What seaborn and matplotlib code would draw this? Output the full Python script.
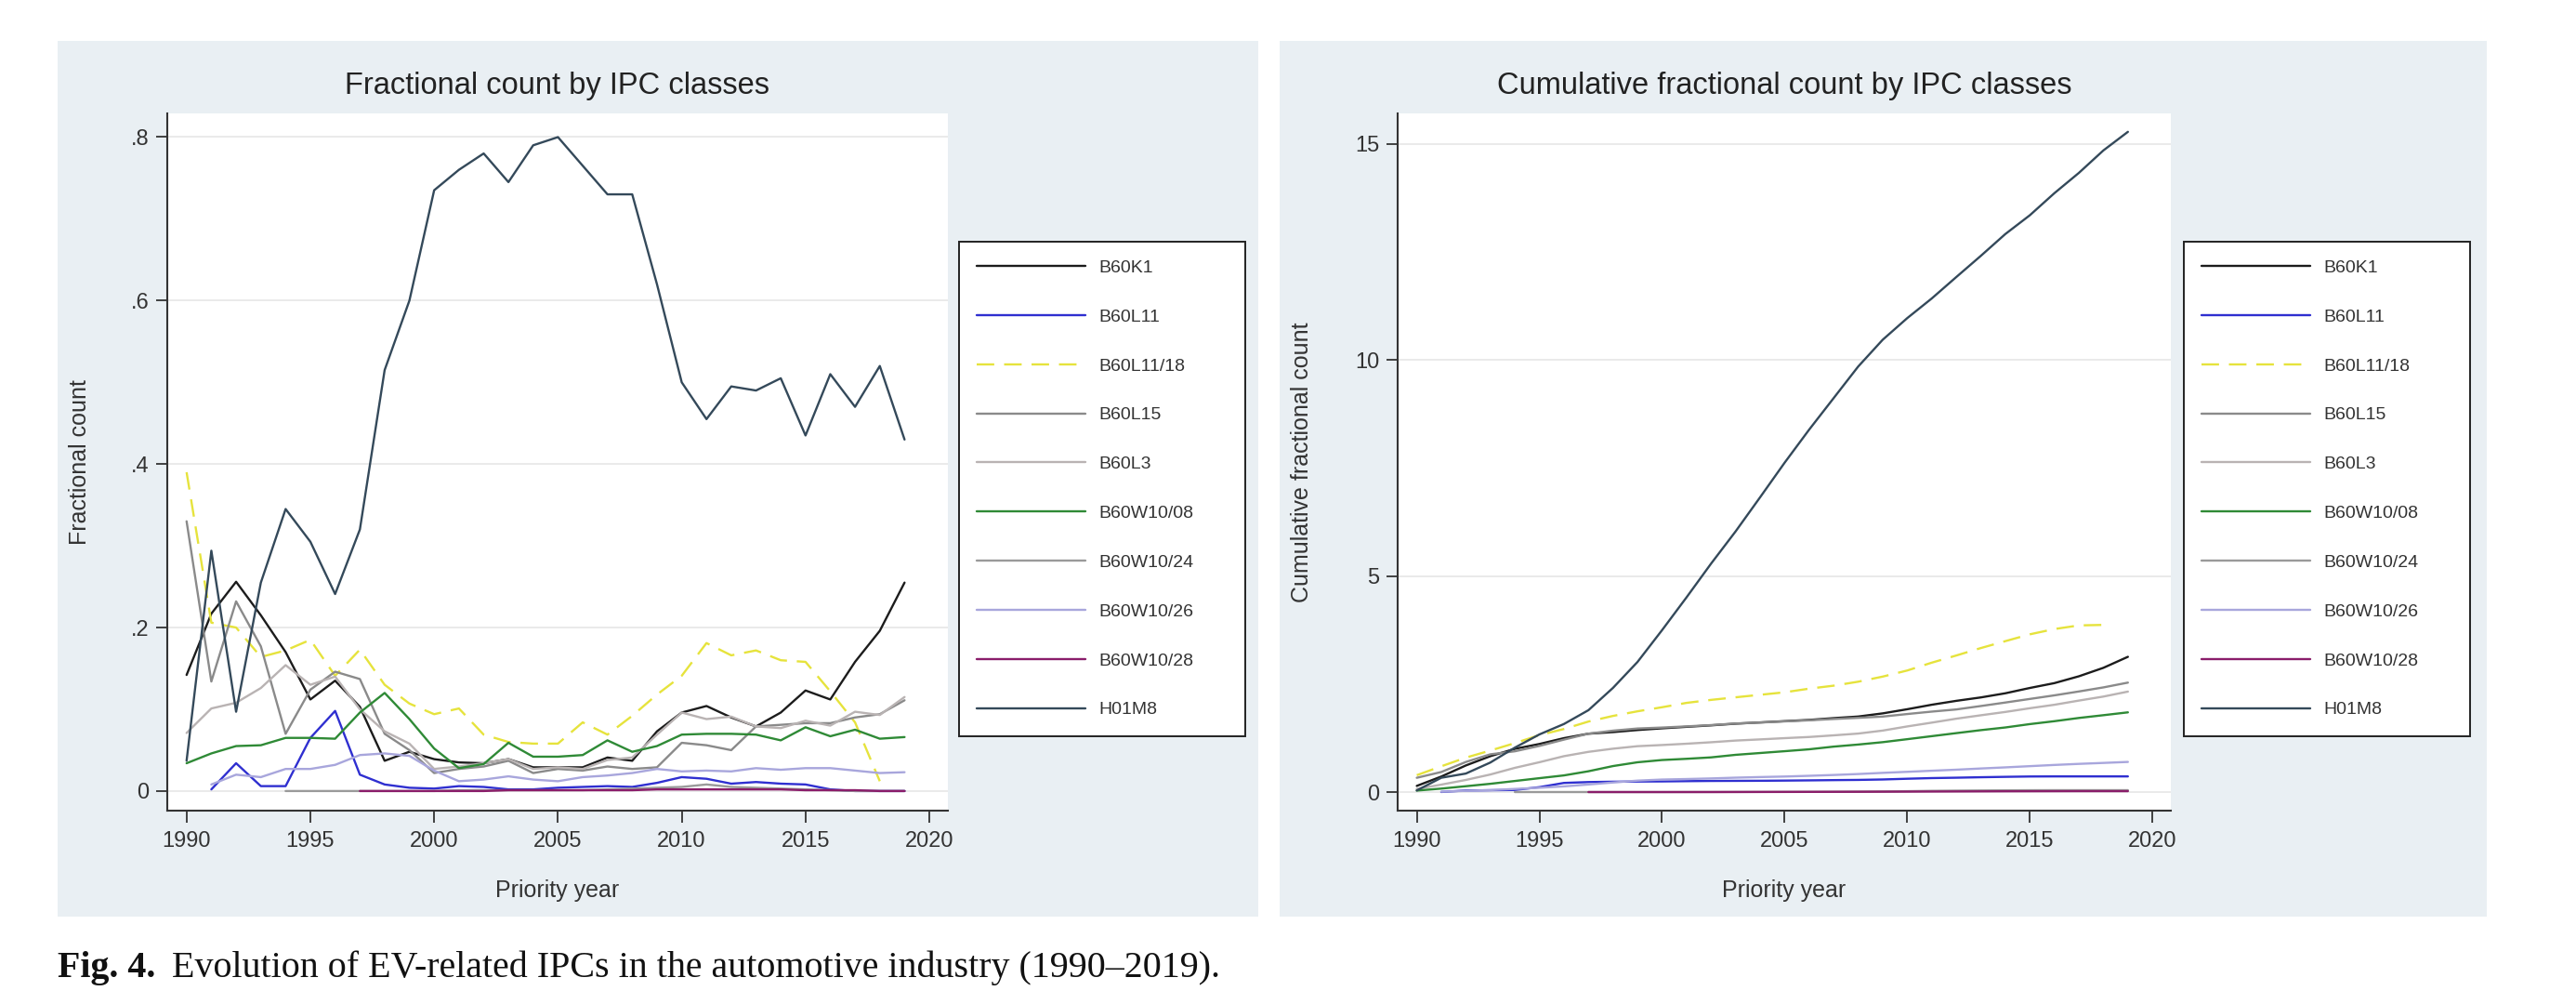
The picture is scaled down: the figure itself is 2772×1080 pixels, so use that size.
import numpy as np
import pandas as pd
import matplotlib
matplotlib.use("Agg")
import matplotlib.pyplot as plt
import seaborn as sns
from matplotlib.patches import Rectangle

# ---------------- data ----------------
nan = np.nan
years = list(range(1990, 2020))
ipc_classes = ["B60K1", "B60L11", "B60L11/18", "B60L15", "B60L3",
               "B60W10/08", "B60W10/24", "B60W10/26", "B60W10/28", "H01M8"]

frac_B60K1 = [0.142, 0.217, 0.256, 0.215, 0.170, 0.112, 0.135, 0.103, 0.037, 0.048,
              0.039, 0.035, 0.034, 0.039, 0.029, 0.029, 0.029, 0.041, 0.037, 0.073,
              0.096, 0.104, 0.090, 0.079, 0.096, 0.123, 0.112, 0.158, 0.196, 0.255]
frac_B60L11 = [nan, 0.002, 0.034, 0.006, 0.006, 0.065, 0.098, 0.020, 0.008, 0.004,
               0.003, 0.006, 0.005, 0.002, 0.002, 0.004, 0.005, 0.006, 0.005, 0.010,
               0.017, 0.015, 0.009, 0.011, 0.009, 0.008, 0.002, 0.000, 0.000, 0.000]
frac_B60L11_18 = [0.390, 0.206, 0.200, 0.164, 0.172, 0.185, 0.141, 0.173, 0.130, 0.107,
                  0.094, 0.101, 0.069, 0.060, 0.058, 0.058, 0.084, 0.069, 0.092, 0.118,
                  0.141, 0.181, 0.166, 0.172, 0.160, 0.158, 0.122, 0.084, 0.012, nan]
frac_B60L15 = [0.330, 0.134, 0.232, 0.177, 0.070, 0.124, 0.146, 0.137, 0.070, 0.050,
               0.022, 0.027, 0.030, 0.037, 0.022, 0.027, 0.025, 0.030, 0.027, 0.029,
               0.059, 0.056, 0.050, 0.079, 0.081, 0.083, 0.083, 0.090, 0.094, 0.111]
frac_B60L3 = [0.071, 0.101, 0.108, 0.126, 0.154, 0.130, 0.140, 0.100, 0.073, 0.058,
              0.027, 0.030, 0.034, 0.039, 0.027, 0.029, 0.027, 0.038, 0.041, 0.069,
              0.096, 0.088, 0.091, 0.079, 0.077, 0.086, 0.080, 0.097, 0.093, 0.115]
frac_B60W10_08 = [0.034, 0.046, 0.055, 0.056, 0.065, 0.065, 0.064, 0.096, 0.120, 0.088,
                  0.052, 0.028, 0.033, 0.059, 0.042, 0.042, 0.044, 0.062, 0.048, 0.055,
                  0.069, 0.070, 0.070, 0.069, 0.062, 0.078, 0.067, 0.075, 0.064, 0.066]
frac_B60W10_24 = [nan, nan, nan, nan, 0.000, 0.000, 0.000, 0.000, 0.000, 0.000,
                  0.000, 0.001, 0.001, 0.001, 0.001, 0.001, 0.001, 0.002, 0.003, 0.004,
                  0.005, 0.008, 0.005, 0.004, 0.003, 0.002, 0.001, 0.000, 0.000, 0.000]
frac_B60W10_26 = [nan, 0.008, 0.020, 0.017, 0.027, 0.027, 0.032, 0.044, 0.046, 0.043,
                  0.025, 0.012, 0.014, 0.018, 0.014, 0.012, 0.017, 0.019, 0.022, 0.027,
                  0.024, 0.025, 0.024, 0.028, 0.026, 0.028, 0.028, 0.025, 0.022, 0.023]
frac_B60W10_28 = [nan, nan, nan, nan, nan, nan, nan, 0.000, 0.000, 0.000,
                  0.000, 0.000, 0.000, 0.001, 0.001, 0.001, 0.001, 0.001, 0.001, 0.002,
                  0.002, 0.002, 0.002, 0.002, 0.002, 0.001, 0.001, 0.001, 0.000, 0.000]
frac_H01M8 = [0.037, 0.294, 0.097, 0.255, 0.345, 0.305, 0.241, 0.320, 0.515, 0.600,
              0.735, 0.760, 0.780, 0.745, 0.790, 0.800, 0.765, 0.730, 0.730, 0.620,
              0.500, 0.455, 0.495, 0.490, 0.505, 0.435, 0.510, 0.470, 0.520, 0.430]

x_ticks = [1990, 1995, 2000, 2005, 2010, 2015, 2020]
left_yticks = [0, 0.2, 0.4, 0.6, 0.8]
left_yticklabels = ["0", ".2", ".4", ".6", ".8"]
right_yticks = [0, 5, 10, 15]
right_yticklabels = ["0", "5", "10", "15"]

left_title = "Fractional count by IPC classes"
right_title = "Cumulative fractional count by IPC classes"
left_ylabel = "Fractional count"
right_ylabel = "Cumulative fractional count"
xlabel = "Priority year"
caption_bold = "Fig. 4."
caption_text = "Evolution of EV-related IPCs in the automotive industry (1990\u20132019)."

series = {
    "B60K1": frac_B60K1, "B60L11": frac_B60L11, "B60L11/18": frac_B60L11_18,
    "B60L15": frac_B60L15, "B60L3": frac_B60L3, "B60W10/08": frac_B60W10_08,
    "B60W10/24": frac_B60W10_24, "B60W10/26": frac_B60W10_26,
    "B60W10/28": frac_B60W10_28, "H01M8": frac_H01M8,
}

rows = []
for name in ipc_classes:
    s = pd.Series(series[name], index=years, dtype=float)
    c = s.cumsum()
    for y in years:
        rows.append({"year": y, "ipc": name, "frac": s[y], "cum": c[y]})
df = pd.DataFrame(rows)

palette = {
    "B60K1": "#1c1c1c", "B60L11": "#2f2fd0", "B60L11/18": "#e6e33c",
    "B60L15": "#8a8a8a", "B60L3": "#b9b3b3", "B60W10/08": "#2f8a36",
    "B60W10/24": "#9a9a9a", "B60W10/26": "#a8a6dc", "B60W10/28": "#8a1d6a",
    "H01M8": "#34495a",
}
dashes = {n: "" for n in ipc_classes}
dashes["B60L11/18"] = (8, 4.5)

# ---------------- style ----------------
sns.set_theme(style="white")
plt.rcParams["font.family"] = ["Liberation Sans", "DejaVu Sans"]

W, H = 2772, 1080
fig = plt.figure(figsize=(W / 100, H / 100), dpi=100)
fig.patch.set_facecolor("white")

panel_color = "#e9eff3"
fig.patches.append(Rectangle((62 / W, 1 - 986 / H), (1354 - 62) / W, (986 - 44) / H,
                             transform=fig.transFigure, facecolor=panel_color,
                             edgecolor="none", zorder=-10))
fig.patches.append(Rectangle((1377 / W, 1 - 986 / H), (2676 - 1377) / W, (986 - 44) / H,
                             transform=fig.transFigure, facecolor=panel_color,
                             edgecolor="none", zorder=-10))

ax1 = fig.add_axes([180 / W, (H - 872) / H, 840 / W, 750 / H])
ax2 = fig.add_axes([1504 / W, (H - 872) / H, 832 / W, 750 / H])

ink = "#333333"
configs = [
    (ax1, "frac", left_title, left_ylabel, left_yticks, left_yticklabels, (-0.024, 0.829), 1032),
    (ax2, "cum", right_title, right_ylabel, right_yticks, right_yticklabels, (-0.43, 15.70), 2350),
]

for ax, col, title, ylab, yt, ytl, ylim, leg_x in configs:
    ax.set_zorder(5)
    ax.set_facecolor("white")
    sns.lineplot(data=df, x="year", y=col, hue="ipc", style="ipc",
                 hue_order=ipc_classes, style_order=ipc_classes,
                 palette=palette, dashes=dashes, linewidth=1.7,
                 estimator=None, errorbar=None, ax=ax, legend=True)
    ax.set_xlim(1989.22, 2020.75)
    ax.set_ylim(*ylim)
    ax.set_xticks(x_ticks)
    ax.set_xticklabels([str(t) for t in x_ticks])
    ax.set_yticks(yt)
    ax.set_yticklabels(ytl)
    ax.grid(axis="y", color="#e8e8e8", linewidth=1.3)
    ax.grid(axis="x", visible=False)
    ax.set_axisbelow(True)
    for sp in ["top", "right"]:
        ax.spines[sp].set_visible(False)
    for sp in ["left", "bottom"]:
        ax.spines[sp].set_color(ink)
        ax.spines[sp].set_linewidth(1.5)
    ax.tick_params(axis="both", direction="out", length=9, width=1.3, color=ink,
                   labelsize=17, labelcolor=ink, pad=5, left=True, bottom=True)
    ax.tick_params(axis="x", pad=7)
    ax.set_title(title, fontsize=23.5, color="#222222", y=1.028, va="center")
    ax.set_xlabel(xlabel, fontsize=18, color=ink)
    ax.set_ylabel(ylab, fontsize=18, color=ink)
    ax.xaxis.set_label_coords(0.5, -0.115)
    ax.xaxis.label.set_verticalalignment("center")
    ax.yaxis.label.set_verticalalignment("center")

    handles, labels = ax.get_legend_handles_labels()
    if ax.get_legend() is not None:
        ax.get_legend().remove()
    for h in handles:
        h.set_linewidth(1.7)
    leg = ax.legend(handles, labels, loc="upper left",
                    bbox_to_anchor=(leg_x / W, 1 - 798 / H, 308 / W, (798 - 260) / H),
                    bbox_transform=fig.transFigure, mode="expand", borderaxespad=0,
                    fontsize=14, labelspacing=1.81, handlelength=6.0,
                    handletextpad=0.75, borderpad=1.0, frameon=True, fancybox=False,
                    framealpha=1)
    leg.get_frame().set_edgecolor("#222222")
    leg.get_frame().set_linewidth(1.4)
    for t in leg.get_texts():
        t.set_color(ink)

ax1.yaxis.set_label_coords((86 - 180) / 840, 0.5)
ax2.yaxis.set_label_coords((1401 - 1504) / 832, 0.5)

# caption
t1 = fig.text(62 / W, 1 - 1041 / H, caption_bold, fontsize=28.8, fontweight="bold",
              family=["Liberation Serif", "DejaVu Serif"], va="center", ha="left", color="#111111")
fig.canvas.draw()
bb = t1.get_window_extent(renderer=fig.canvas.get_renderer())
fig.text((bb.x1 + 18) / W, 1 - 1041 / H, caption_text, fontsize=28.8,
         family=["Liberation Serif", "DejaVu Serif"], va="center", ha="left", color="#111111")

fig.savefig("out.png", dpi=100, facecolor="white")
